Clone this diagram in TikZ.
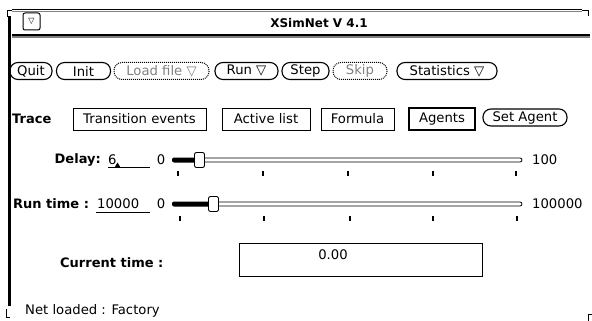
\documentclass[tikz,border=0pt]{standalone}
\usepackage{fontspec}
\setmainfont{DejaVu Sans}
\begin{document}
\begin{tikzpicture}[x=1pt,y=-1pt,
  every node/.style={inner sep=0pt, font=\fontsize{13.2}{15}\selectfont},
  btn/.style={draw, line width=1.1pt, rounded corners=8pt, minimum height=17pt},
  dbtn/.style={draw, densely dotted, line width=1pt, rounded corners=8pt, minimum height=17pt, text=gray},
  tbox/.style={draw, line width=0.8pt, minimum height=22pt},
  lbl/.style={font=\fontsize{13}{15}\selectfont\bfseries},
  knob/.style={draw, fill=white, line width=0.9pt, rounded corners=2pt, minimum width=10pt, minimum height=15pt},
  tick/.style={line width=2pt},
  frame/.style={line width=1.2pt},
  shade/.style={line width=1.5pt, gray}
]
\useasboundingbox (0,0) rectangle (592,321);
% window frame
\draw[frame] (12,9.5) -- (582,9.5);
\draw[shade] (12,11.5) -- (582,11.5);
\draw[line width=1pt] (7,17) -- (7,10.5) -- (12,10.5);
\draw[line width=1pt] (582,10.5) -- (588,10.5) -- (588,16);
\draw[frame] (12,35) -- (590,35);
\draw[shade] (12,37.2) -- (590,37.2);
\draw[line width=2.5pt] (9.5,16) -- (9.5,306);
\draw[line width=1pt] (6,309) -- (6,317) -- (10,317);
\draw[line width=1pt] (588,321) -- (588,314) -- (592,314);
% title bar
\node[draw, line width=1pt, rounded corners=2pt, minimum width=17pt, minimum height=17pt] (menu) at (31.5,21.5) {};
\node[font=\fontsize{8}{10}\selectfont] at (menu) {▽};
\node[font=\fontsize{12}{14}\selectfont\bfseries] (title) at (319,23) {XSimNet V 4.1};
% button row
\node[btn, minimum width=42pt] (quit) at (31,71) {Quit};
\node[btn, minimum width=54pt] (init) at (83.5,71) {Init};
\node[dbtn, minimum width=95pt] (load) at (161.5,71) {Load file ▽};
\node[btn, minimum width=63pt] (run) at (246.5,71) {Run ▽};
\node[btn, minimum width=47pt] (step) at (305.5,71) {Step};
\node[dbtn, minimum width=54pt] (skip) at (360,71) {Skip};
\node[btn, minimum width=100pt] (stat) at (447,71) {Statistics ▽};
% trace row
\node[lbl, anchor=west] (trace) at (12,119) {Trace};
\node[tbox, minimum width=133pt] (te) at (139.5,119) {Transition events};
\node[tbox, minimum width=88pt] (al) at (266,119) {Active list};
\node[tbox, minimum width=73pt] (fo) at (357.5,119) {Formula};
\node[tbox, line width=1.8pt, minimum width=66pt] (ag) at (442,119) {Agents};
\node[btn, minimum width=84pt] (sa) at (525,117.5) {Set Agent};
% delay row
\node[lbl, anchor=east] (delay) at (101,160) {Delay:};
\node[anchor=west] (dval) at (108,160) {6};
\draw[line width=0.8pt] (108,167.5) -- (150,167.5);
\fill (114.5,167.5) -- (117.5,162.5) -- (120.5,167.5) -- cycle;
\node (dmin) at (161,160) {0};
\fill[rounded corners=2pt] (172,157.5) rectangle (197,162.5);
\draw[line width=0.8pt, rounded corners=2pt] (203,158) rectangle (522,162);
\node[knob] (dknob) at (199.5,160) {};
\node[anchor=west] (dmax) at (532,160) {100};
\foreach \x in {178,263,348,433,516} \draw[tick] (\x,171) -- (\x,176);
% run time row
\node[lbl, anchor=west] (rt) at (13,204) {Run time :};
\node[anchor=west] (rval) at (97,204) {10000};
\draw[line width=0.8pt] (96,212.5) -- (150,212.5);
\node (rmin) at (161,204) {0};
\fill[rounded corners=2pt] (172,201.5) rectangle (211,206.5);
\draw[line width=0.8pt, rounded corners=2pt] (217,202) rectangle (522,206);
\node[knob] (rknob) at (213.5,204) {};
\node[anchor=west] (rmax) at (532,204) {100000};
\foreach \x in {180,264,350,433,517} \draw[tick] (\x,216) -- (\x,221);
% current time
\node[lbl, anchor=west] (ct) at (60,263) {Current time :};
\node[draw, line width=0.9pt, minimum width=243pt, minimum height=33pt] (ctbox) at (360.5,259.5) {};
\node (ctval) at (333,255) {0.00};
% status
\node[anchor=west] (status) at (25,311) {Net loaded : Factory};
\end{tikzpicture}
\end{document}
